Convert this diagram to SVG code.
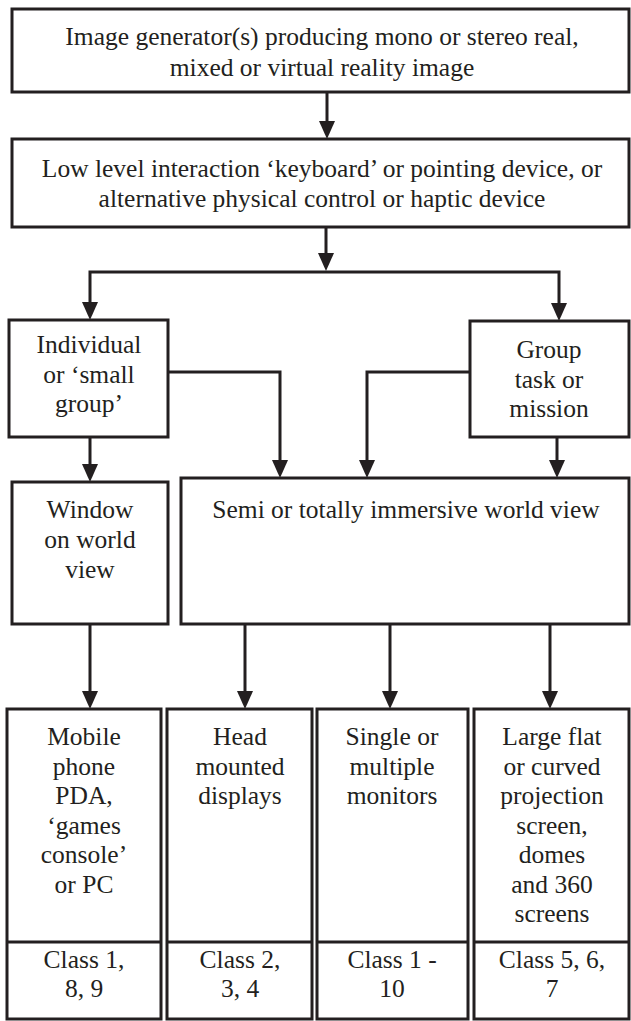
<svg xmlns="http://www.w3.org/2000/svg" width="631" height="1021" viewBox="0 0 631 1021">
  <style>
    .box { fill: #ffffff; stroke: #231f20; stroke-width: 3; }
    .div { stroke: #231f20; stroke-width: 3; }
    .lbl { font-family: "Liberation Serif", "Times New Roman", serif; font-size: 25.5px; fill: #231f20; text-anchor: middle; }
    .conn { fill: none; stroke: #231f20; stroke-width: 3; stroke-linejoin: miter; marker-end: url(#arr); }
  </style>
  <defs>
    <marker id="arr" markerUnits="userSpaceOnUse" viewBox="0 0 18 16" refX="8" refY="8" markerWidth="18" markerHeight="16" orient="auto">
      <path d="M0,0 L18,8 L0,16 z" fill="#231f20"/>
    </marker>
  </defs>
  <rect width="631" height="1021" fill="#ffffff"/>

  <!-- connectors -->
  <g id="connectors">
    <path class="conn" d="M327,92 V129"/>
    <path class="conn" d="M326,227 V261"/>
    <path class="conn" d="M326,272 H90 V310"/>
    <path class="conn" d="M326,272 H559 V311"/>
    <path class="conn" d="M168,372 H280 V468"/>
    <path class="conn" d="M470,372 H367 V468"/>
    <path class="conn" d="M90,437 V472"/>
    <path class="conn" d="M557,437 V468"/>
    <path class="conn" d="M90,624 V699"/>
    <path class="conn" d="M245,624 V699"/>
    <path class="conn" d="M390,624 V699"/>
    <path class="conn" d="M550,624 V699"/>
  </g>

  <g id="generator">
    <rect class="box" x="12" y="9" width="617" height="83"/>
    <text class="lbl" x="322" y="45">Image generator(s) producing mono or stereo real,</text>
    <text class="lbl" x="322" y="76">mixed or virtual reality image</text>
  </g>

  <g id="interaction">
    <rect class="box" x="12" y="139" width="617" height="88"/>
    <text class="lbl" x="322" y="177">Low level interaction ‘keyboard’ or pointing device, or</text>
    <text class="lbl" x="322" y="207">alternative physical control or haptic device</text>
  </g>

  <g id="individual">
    <rect class="box" x="9" y="320" width="159" height="117"/>
    <text class="lbl" x="89" y="353">Individual</text>
    <text class="lbl" x="89" y="383">or ‘small</text>
    <text class="lbl" x="89" y="412">group’</text>
  </g>

  <g id="group-task">
    <rect class="box" x="470" y="321" width="159" height="116"/>
    <text class="lbl" x="549" y="358">Group</text>
    <text class="lbl" x="549" y="388">task or</text>
    <text class="lbl" x="549" y="417">mission</text>
  </g>

  <g id="window-view">
    <rect class="box" x="12" y="482" width="156" height="142"/>
    <text class="lbl" x="90" y="518">Window</text>
    <text class="lbl" x="90" y="548">on world</text>
    <text class="lbl" x="90" y="578">view</text>
  </g>

  <g id="immersive-view">
    <rect class="box" x="181" y="478" width="448" height="146"/>
    <text class="lbl" x="406" y="518">Semi or totally immersive world view</text>
  </g>

  <g id="mobile">
    <rect class="box" x="7" y="709" width="154" height="310"/>
    <line class="div" x1="7" y1="942" x2="161" y2="942"/>
    <text class="lbl" x="84" y="745">Mobile</text>
    <text class="lbl" x="84" y="774.5">phone</text>
    <text class="lbl" x="84" y="804">PDA,</text>
    <text class="lbl" x="84" y="833.5">‘games</text>
    <text class="lbl" x="84" y="863">console’</text>
    <text class="lbl" x="84" y="892.5">or PC</text>
    <text class="lbl" x="84" y="968">Class 1,</text>
    <text class="lbl" x="84" y="997">8, 9</text>
  </g>

  <g id="head-mounted">
    <rect class="box" x="167" y="709" width="145" height="310"/>
    <line class="div" x1="167" y1="942" x2="312" y2="942"/>
    <text class="lbl" x="240" y="745">Head</text>
    <text class="lbl" x="240" y="774.5">mounted</text>
    <text class="lbl" x="240" y="804">displays</text>
    <text class="lbl" x="240" y="968">Class 2,</text>
    <text class="lbl" x="240" y="997">3, 4</text>
  </g>

  <g id="monitors">
    <rect class="box" x="317" y="709" width="151" height="310"/>
    <line class="div" x1="317" y1="942" x2="468" y2="942"/>
    <text class="lbl" x="392" y="745">Single or</text>
    <text class="lbl" x="392" y="774.5">multiple</text>
    <text class="lbl" x="392" y="804">monitors</text>
    <text class="lbl" x="392" y="968">Class 1 -</text>
    <text class="lbl" x="392" y="997">10</text>
  </g>

  <g id="projection">
    <rect class="box" x="474" y="709" width="155" height="310"/>
    <line class="div" x1="474" y1="942" x2="629" y2="942"/>
    <text class="lbl" x="552" y="745">Large flat</text>
    <text class="lbl" x="552" y="774.5">or curved</text>
    <text class="lbl" x="552" y="804">projection</text>
    <text class="lbl" x="552" y="833.5">screen,</text>
    <text class="lbl" x="552" y="863">domes</text>
    <text class="lbl" x="552" y="892.5">and 360</text>
    <text class="lbl" x="552" y="922">screens</text>
    <text class="lbl" x="552" y="968">Class 5, 6,</text>
    <text class="lbl" x="552" y="997">7</text>
  </g>
</svg>
